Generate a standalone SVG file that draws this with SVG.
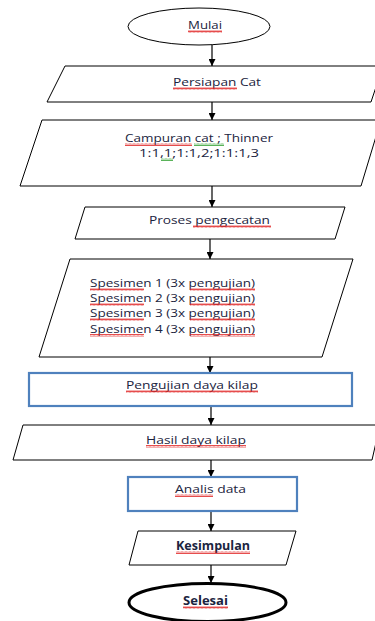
<svg xmlns="http://www.w3.org/2000/svg" width="375" height="621" viewBox="0 0 375 621">
<style>
.s{fill:#fff;stroke:#000;stroke-width:1}
.b{fill:#fff;stroke:#4f81bd;stroke-width:2.2}
.t{font-family:"Open Sans","Liberation Sans",sans-serif;font-size:11.5px;fill:#1b2440}
.k{font-weight:bold}
.e{stroke:#000;stroke-width:1.2;fill:none;marker-end:url(#ah)}
.r{fill:url(#wr)}
.g{fill:url(#wg)}
</style>
<defs>
<marker id="ah" viewBox="0 0 10 10" refX="10" refY="5" markerWidth="7" markerHeight="7" markerUnits="userSpaceOnUse" orient="auto"><path d="M0 0 L10 5 L0 10 Z" fill="#000"/></marker>
<pattern id="wr" width="4" height="3" patternUnits="userSpaceOnUse"><path d="M0 2.5 L1 0.5 L2 2.5 L3 0.5 L4 2.5" fill="none" stroke="#e02020" stroke-width="0.8"/></pattern>
<pattern id="wg" width="4" height="3" patternUnits="userSpaceOnUse"><path d="M0 2.5 L1 0.5 L2 2.5 L3 0.5 L4 2.5" fill="none" stroke="#30a030" stroke-width="0.8"/></pattern>
</defs>
<rect width="375" height="621" fill="#fff"/>
<g id="connectors">
<line class="e" x1="212" y1="45" x2="212" y2="66"/>
<line class="e" x1="212" y1="102" x2="212" y2="120"/>
<line class="e" x1="212" y1="186" x2="212" y2="207"/>
<line class="e" x1="210" y1="238" x2="210" y2="259"/>
<line class="e" x1="210" y1="357" x2="210" y2="373"/>
<line class="e" x1="211" y1="406" x2="211" y2="425"/>
<line class="e" x1="211" y1="460" x2="211" y2="477"/>
<line class="e" x1="211" y1="511" x2="211" y2="531"/>
<line class="e" x1="211" y1="565" x2="211" y2="583"/>
</g>
<g id="mulai">
<ellipse class="s" cx="199" cy="26.5" rx="71" ry="18.5"/>
<text class="t" x="188" y="29" textLength="34" lengthAdjust="spacingAndGlyphs">Mulai</text>
<rect class="r" x="188" y="30" width="34" height="3"/>
</g>
<g id="persiapan">
<polygon class="s" points="65,66 383,66 371,102 47,102"/>
<text class="t" x="173" y="86" textLength="88" lengthAdjust="spacingAndGlyphs">Persiapan Cat</text>
<rect class="r" x="173" y="87" width="64" height="3"/>
</g>
<g id="campuran">
<polygon class="s" points="42,120 381,120 361,186 20,186"/>
<text class="t" x="125" y="142" textLength="148" lengthAdjust="spacingAndGlyphs">Campuran cat ; Thinner</text>
<text class="t" x="139" y="157" textLength="120" lengthAdjust="spacingAndGlyphs">1:1,1;1:1,2;1:1:1,3</text>
<rect class="r" x="125" y="143" width="67" height="3"/>
<rect class="g" x="194" y="143" width="30" height="3"/>
<rect class="g" x="161" y="158" width="12" height="3"/>
</g>
<g id="proses">
<polygon class="s" points="85,207 345,207 335,239 75,239"/>
<text class="t" x="149" y="224" textLength="121" lengthAdjust="spacingAndGlyphs">Proses pengecatan</text>
<rect class="r" x="193" y="225" width="78" height="3"/>
</g>
<g id="spesimen">
<polygon class="s" points="70,259 353,259 322,357 39,357"/>
<text class="t" x="90" y="287" textLength="165" lengthAdjust="spacingAndGlyphs">Spesimen 1 (3x pengujian)</text>
<text class="t" x="90" y="302" textLength="165" lengthAdjust="spacingAndGlyphs">Spesimen 2 (3x pengujian)</text>
<text class="t" x="90" y="317" textLength="165" lengthAdjust="spacingAndGlyphs">Spesimen 3 (3x pengujian)</text>
<text class="t" x="90" y="333" textLength="165" lengthAdjust="spacingAndGlyphs">Spesimen 4 (3x pengujian)</text>
<rect class="r" x="90" y="288" width="54" height="3"/>
<rect class="r" x="190" y="288" width="65" height="3"/>
<rect class="r" x="90" y="303" width="54" height="3"/>
<rect class="r" x="190" y="303" width="65" height="3"/>
<rect class="r" x="90" y="318" width="54" height="3"/>
<rect class="r" x="190" y="318" width="65" height="3"/>
<rect class="r" x="90" y="334" width="54" height="3"/>
<rect class="r" x="190" y="334" width="65" height="3"/>
</g>
<g id="pengujian">
<rect class="b" x="29" y="373" width="323" height="33"/>
<text class="t" x="126" y="389" textLength="132" lengthAdjust="spacingAndGlyphs">Pengujian daya kilap</text>
<rect class="r" x="126" y="390" width="132" height="3"/>
</g>
<g id="hasil">
<polygon class="s" points="23,425 380,425 372,460 13,460"/>
<text class="t" x="146" y="444" textLength="100" lengthAdjust="spacingAndGlyphs">Hasil daya kilap</text>
<rect class="r" x="146" y="445" width="100" height="3"/>
</g>
<g id="analis">
<rect class="b" x="128" y="477" width="169" height="34"/>
<text class="t" x="175" y="493" textLength="71" lengthAdjust="spacingAndGlyphs">Analis data</text>
<rect class="r" x="175" y="494" width="38" height="3"/>
</g>
<g id="kesimpulan">
<polygon class="s" points="138,531 296,531 286,565 129,565"/>
<text class="t k" x="176" y="550" textLength="74" lengthAdjust="spacingAndGlyphs">Kesimpulan</text>
<rect class="r" x="176" y="551" width="74" height="3"/>
</g>
<g id="selesai">
<ellipse cx="207.5" cy="602.5" rx="78.5" ry="19" fill="#fff" stroke="#000" stroke-width="3"/>
<text class="t k" x="183" y="605" textLength="45" lengthAdjust="spacingAndGlyphs">Selesai</text>
<rect class="r" x="183" y="606" width="45" height="3"/>
</g>
</svg>
